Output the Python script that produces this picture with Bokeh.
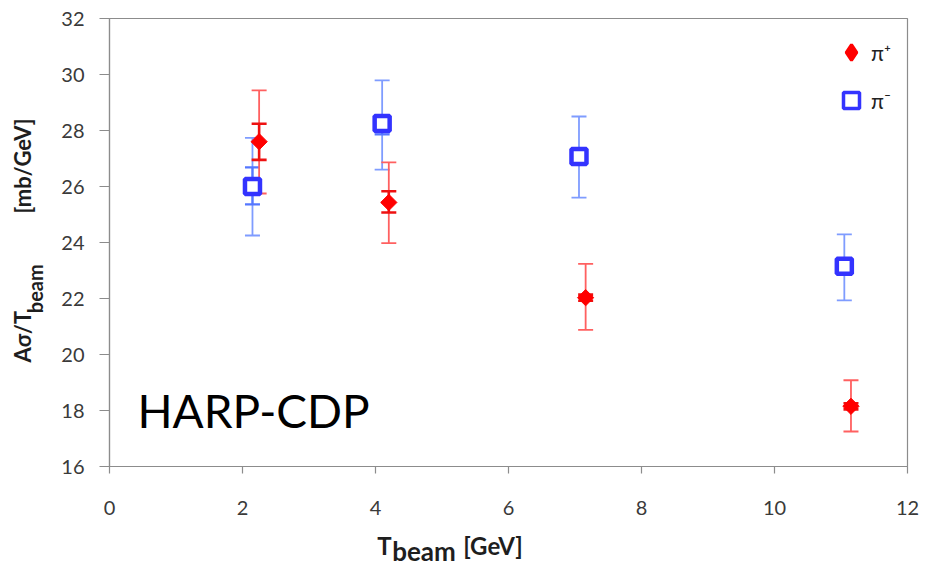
from math import pi
from bokeh.plotting import figure
from bokeh.models import (ColumnDataSource, Whisker, Label, Legend, LegendItem,
                          Range1d, TeeHead, Title, LinearAxis, FixedTicker)
from bokeh.embed import file_html
from bokeh.resources import INLINE

# ---- data ----
x_ticks = [0, 2, 4, 6, 8, 10, 12]
y_ticks = [16, 18, 20, 22, 24, 26, 28, 30, 32]

piplus_x = [2.25, 4.2, 7.16, 11.15]
piplus_y = [27.6, 25.43, 22.03, 18.15]
piplus_stat_lo = [26.95, 25.07, 21.92, 18.04]
piplus_stat_hi = [28.24, 25.83, 22.14, 18.26]
piplus_tot_lo = [25.75, 23.98, 20.88, 17.25]
piplus_tot_hi = [29.43, 26.86, 23.24, 19.08]

piminus_x = [2.15, 4.1, 7.06, 11.05]
piminus_y = [26.0, 28.25, 27.07, 23.15]
piminus_stat_lo = [25.36, 27.86, 26.85, 22.95]
piminus_stat_hi = [26.68, 28.55, 27.30, 23.35]
piminus_tot_lo = [24.25, 26.6, 25.6, 21.93]
piminus_tot_hi = [27.74, 29.79, 28.5, 24.29]

legend_labels = ["π⁺", "π⁻"]
tag_text = "HARP-CDP"

FONT = "Lato"
TITLE_COLOR = "#1e1e1e"
EM = "\u2003"
EN = "\u2002"
THIN = "\u2009"
NAN = float("nan")

def dx(px):
    return (px - 109) / 66.5

def dy(py):
    return 32 - (py - 18) / 28.0

p = figure(width=938, height=569, output_backend="svg", toolbar_location=None,
           x_range=Range1d(0, 12), y_range=Range1d(16, 32),
           min_border_left=109, min_border_right=31, min_border_top=18,
           min_border_bottom=103)
p.background_fill_color = "white"
p.border_fill_color = "white"
p.outline_line_color = "#8c8c8c"
p.outline_line_width = 1.2
p.xgrid.visible = False
p.ygrid.visible = False

for ax, tks in ((p.xaxis, x_ticks), (p.yaxis, y_ticks)):
    ax.ticker = tks
    ax.axis_line_color = "#8c8c8c"
    ax.axis_line_width = 1.2
    ax.major_tick_line_color = "#8c8c8c"
    ax.major_tick_line_width = 1.2
    ax.major_tick_in = 0
    ax.minor_tick_line_color = None
    ax.major_label_text_font = FONT
    ax.major_label_text_font_size = "20px"
    ax.major_label_text_color = "#3a3a3a"
p.xaxis.major_tick_out = 7
p.yaxis.major_tick_out = 10
p.xaxis.major_label_standoff = 27
p.yaxis.major_label_standoff = 15

# y-axis title: subscript "beam" as the axis label, the rest as titles
p.yaxis.axis_label = "beam" + EM * 6 + THIN
p.yaxis.axis_label_text_font = FONT
p.yaxis.axis_label_text_font_style = "bold"
p.yaxis.axis_label_text_font_size = "20px"
p.yaxis.axis_label_text_color = TITLE_COLOR
p.yaxis.axis_label_standoff = 11

for txt, off in (("Aσ/T", 104), ("[mb/GeV]", 253)):
    p.add_layout(Title(text=txt, align="left", offset=off, vertical_align="bottom",
                       standoff=-31, text_font=FONT, text_font_style="bold",
                       text_font_size="22px", text_color=TITLE_COLOR), "left")

# x-axis title: an extra label-only axis carrying "T", "[GeV]" and subscript "beam"
xt = LinearAxis(ticker=FixedTicker(ticks=[4.135, 5.767]),
                major_label_overrides={4.135: "T", 5.767: "[GeV]"},
                axis_line_color=None, major_tick_line_color=None,
                minor_tick_line_color=None, major_tick_in=0, major_tick_out=0,
                major_label_standoff=13, major_label_text_font=FONT,
                major_label_text_font_style="bold", major_label_text_font_size="24px",
                major_label_text_color=TITLE_COLOR,
                axis_label="beam" + EM * 8 + EN, axis_label_standoff=-28,
                axis_label_text_font=FONT, axis_label_text_font_style="bold",
                axis_label_text_font_size="26px", axis_label_text_color=TITLE_COLOR)
p.add_layout(xt, "below")

src_p = ColumnDataSource(dict(x=piplus_x, y=piplus_y, slo=piplus_stat_lo, shi=piplus_stat_hi,
                              tlo=piplus_tot_lo, thi=piplus_tot_hi))
src_m = ColumnDataSource(dict(x=piminus_x, y=piminus_y, slo=piminus_stat_lo, shi=piminus_stat_hi,
                              tlo=piminus_tot_lo, thi=piminus_tot_hi))

RED_BAR = "#ff6060"
BLUE_BAR = "#7f9cff"

def whisk(src, lo, hi, color, width, cap):
    return Whisker(base="x", lower=lo, upper=hi, source=src, dimension="height",
                   line_color=color, line_width=width,
                   upper_head=TeeHead(size=cap, line_color=color, line_width=width),
                   lower_head=TeeHead(size=cap, line_color=color, line_width=width))

p.add_layout(whisk(src_m, "tlo", "thi", BLUE_BAR, 1.8, 15))
p.add_layout(whisk(src_m, "slo", "shi", "#5577ff", 2.2, 15))
p.add_layout(whisk(src_p, "tlo", "thi", RED_BAR, 1.8, 15))
p.add_layout(whisk(src_p, "slo", "shi", "#ee1111", 2.6, 15))

r_m = p.scatter("x", "y", source=src_m, marker="square", size=15,
                fill_color="white", line_color="#3333ff", line_width=4.5)
r_p = p.scatter("x", "y", source=src_p, marker="square", angle=pi / 4, size=11.5,
                fill_color="#ff0000", line_color="#ff0000", line_width=1)

# legend swatches: renderers whose only point is NaN (never drawn in the plot)
sw_p = p.scatter(x=[NAN], y=[NAN], marker="diamond", size=16,
                 fill_color="#ff0000", line_color="#ff0000", line_width=3)
sw_m = p.scatter(x=[NAN], y=[NAN], marker="square", size=14,
                 fill_color="white", line_color="#3333ff", line_width=3.5)

legend = Legend(items=[LegendItem(label=legend_labels[0], renderers=[sw_p]),
                       LegendItem(label=legend_labels[1], renderers=[sw_m])],
                location=(722, 346), margin=0, padding=10, spacing=8,
                glyph_width=40, glyph_height=40, label_standoff=-9,
                label_text_font=FONT, label_text_font_size="21px",
                label_text_color="#222222", border_line_color=None,
                background_fill_alpha=0)
p.add_layout(legend)

# HARP-CDP tag
p.add_layout(Label(x=dx(137), y=dy(410), text=tag_text, text_font=FONT,
                   text_font_size="46px", text_color="black",
                   text_baseline="alphabetic", text_align="left"))

open("out.html", "w").write(file_html(p, INLINE))
